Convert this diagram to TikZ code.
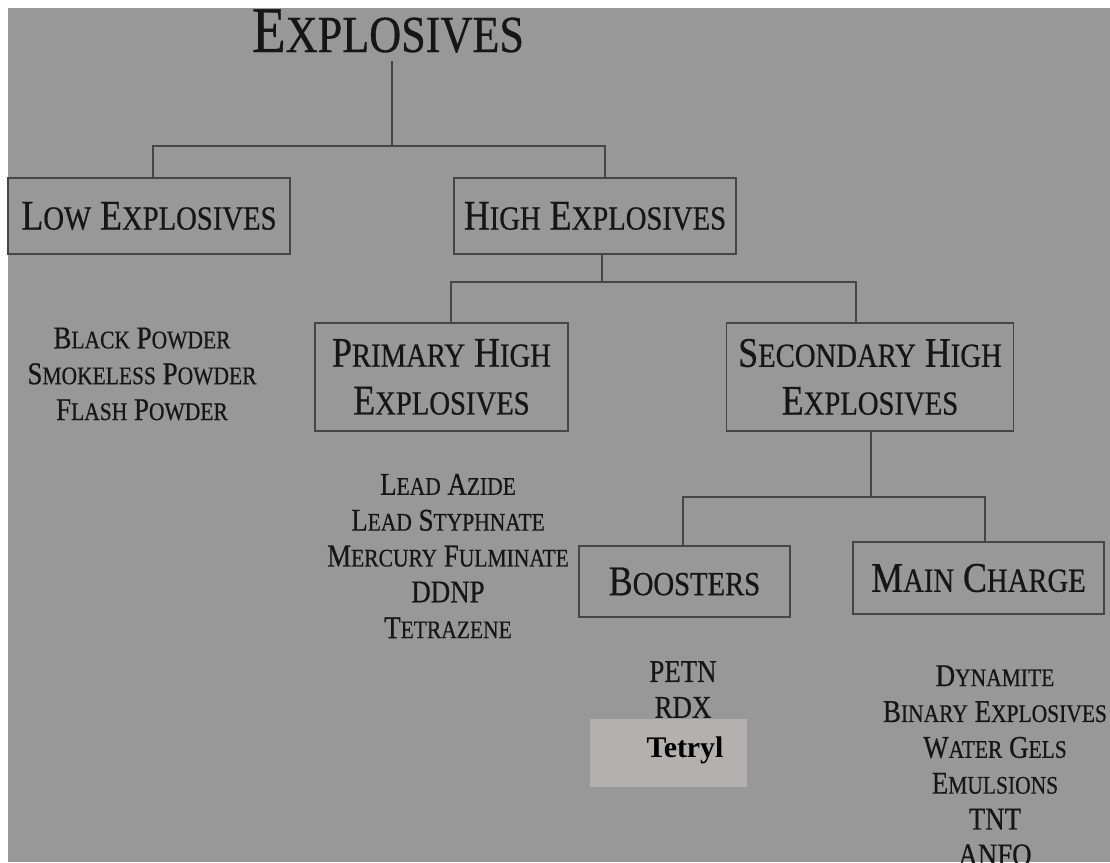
\documentclass[tikz,border=0pt]{standalone}
\usepackage{fontspec}
\usepackage{graphicx}
\newfontfamily\capfont[FakeStretch=0.85,FakeBold=0.6]{Liberation Serif}
\newfontfamily\tagfont{Liberation Serif}
\newcommand\smcp[2]{#1\scalebox{0.8}{\MakeUppercase{#2}}}
\definecolor{bggray}{RGB}{152,152,152}
\definecolor{inkdark}{RGB}{22,22,22}
\definecolor{linegray}{RGB}{70,70,70}
\definecolor{tagfill}{RGB}{180,176,176}

\begin{document}
\begin{tikzpicture}[x=0.2mm,y=-0.2mm,
    catbox/.style={draw=linegray,line width=1pt,text=inkdark,align=center,inner sep=0pt,
      font=\capfont\fontsize{24}{27.2}\selectfont},
    itemlist/.style={text=inkdark,align=center,inner sep=0pt,
      font=\capfont\fontsize{18}{20.4}\selectfont},
    link/.style={draw=linegray,line width=1pt}]
    % page and grey sheet
    \useasboundingbox (0,0) rectangle (1110,862);
    \clip (0,0) rectangle (1110,862);
    \fill[white] (0,0) rectangle (1110,862);
    \fill[bggray] (8,8) rectangle (1110,862);

    % title
    \node[text=inkdark,font=\capfont\fontsize{37}{40}\selectfont,anchor=base,inner sep=0pt] (root) at (388,52) {\smcp{E}{xplosives}};

    % boxes
    \node[catbox,minimum width=56.4mm,minimum height=15.2mm] (low) at (149,216) {\smcp{L}{ow} \smcp{E}{xplosives}};
    \node[catbox,minimum width=56.4mm,minimum height=15.2mm] (high) at (595,216) {\smcp{H}{igh} \smcp{E}{xplosives}};
    \node[catbox,minimum width=50.6mm,minimum height=21.6mm] (prim) at (441.5,377) {\smcp{P}{rimary} \smcp{H}{igh}\\\smcp{E}{xplosives}};
    \node[catbox,minimum width=57.4mm,minimum height=21.6mm] (sec) at (870,377) {\smcp{S}{econdary} \smcp{H}{igh}\\\smcp{E}{xplosives}};
    \node[catbox,minimum width=42.2mm,minimum height=14.2mm] (boost) at (684.5,581.5) {\smcp{B}{oosters}};
    \node[catbox,minimum width=50.2mm,minimum height=14.4mm] (main) at (978.5,578) {\smcp{M}{ain} \smcp{C}{harge}};

    % joints
    \coordinate (bus1) at (392,146);
    \coordinate (lowtop) at (153,178);
    \coordinate (hightop) at (605,178);
    \coordinate (bus2) at (602,282);
    \coordinate (primtop) at (451,323);
    \coordinate (sectop) at (856,323);
    \coordinate (bus3) at (871,497);
    \coordinate (boosttop) at (683,546);
    \coordinate (maintop) at (985,542);

    \draw[link] ([yshift=-1.6mm]root.south -| bus1) -- (bus1);
    \draw[link] (lowtop) |- (bus1) -| (hightop);
    \draw[link] (high.south -| bus2) -- (bus2);
    \draw[link] (primtop) |- (bus2) -| (sectop);
    \draw[link] (sec.south -| bus3) -- (bus3);
    \draw[link] (boosttop) |- (bus3) -| (maintop);

    % lists
    \node[itemlist] (lowlist) at (142,374) {\smcp{B}{lack} \smcp{P}{owder}\\\smcp{S}{mokeless} \smcp{P}{owder}\\\smcp{F}{lash} \smcp{P}{owder}};
    \node[itemlist] (primlist) at (448,556) {\smcp{L}{ead} \smcp{A}{zide}\\\smcp{L}{ead} \smcp{S}{typhnate}\\\smcp{M}{ercury} \smcp{F}{ulminate}\\DDNP\\\smcp{T}{etrazene}};
    \node[itemlist] (boostlist) at (683,689.5) {PETN\\RDX};
    \node[itemlist] (mainlist) at (995,765.5) {\smcp{D}{ynamite}\\\smcp{B}{inary} \smcp{E}{xplosives}\\\smcp{W}{ater} \smcp{G}{els}\\\smcp{E}{mulsions}\\TNT\\ANFO};

    % highlighted item
    \fill[tagfill] (590,719) rectangle (747,787);
    \node[text=black,font=\tagfont\bfseries\fontsize{17}{20}\selectfont,inner sep=0pt] (tetryl) at (685,750) {Tetryl};
\end{tikzpicture}
\end{document}
